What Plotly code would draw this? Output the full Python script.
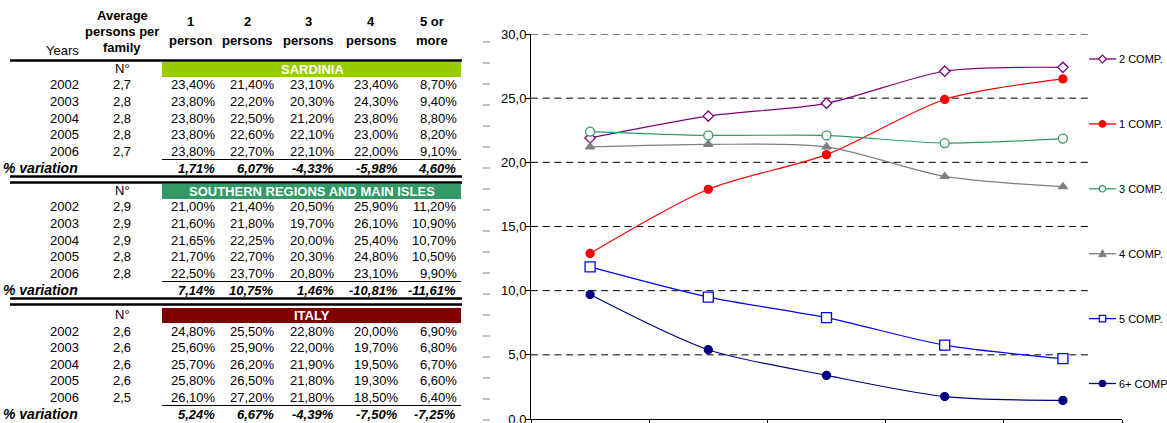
import plotly.graph_objects as go

W, H = 1167, 423

# ---------------- table values ----------------
years = [2002, 2003, 2004, 2005, 2006]
header_top = ["1", "2", "3", "4", "5 or"]
header_bottom = ["person", "persons", "persons", "persons", "more"]

sardinia_avg = [2.7, 2.8, 2.8, 2.8, 2.7]
sardinia_shares = [
    [23.40, 21.40, 23.10, 23.40, 8.70],
    [23.80, 22.20, 20.30, 24.30, 9.40],
    [23.80, 22.50, 21.20, 23.80, 8.80],
    [23.80, 22.60, 22.10, 23.00, 8.20],
    [23.80, 22.70, 22.10, 22.00, 9.10],
]
sardinia_var = [1.71, 6.07, -4.33, -5.98, 4.60]

south_avg = [2.9, 2.9, 2.9, 2.8, 2.8]
south_shares = [
    [21.00, 21.40, 20.50, 25.90, 11.20],
    [21.60, 21.80, 19.70, 26.10, 10.90],
    [21.65, 22.25, 20.00, 25.40, 10.70],
    [21.70, 22.70, 20.30, 24.80, 10.50],
    [22.50, 23.70, 20.80, 23.10, 9.90],
]
south_var = [7.14, 10.75, 1.46, -10.81, -11.61]

italy_avg = [2.6, 2.6, 2.6, 2.6, 2.5]
italy_shares = [
    [24.80, 25.50, 22.80, 20.00, 6.90],
    [25.60, 25.90, 22.00, 19.70, 6.80],
    [25.70, 26.20, 21.90, 19.50, 6.70],
    [25.80, 26.50, 21.80, 19.30, 6.60],
    [26.10, 27.20, 21.80, 18.50, 6.40],
]
italy_var = [5.24, 6.67, -4.39, -7.50, -7.25]

# ---------------- chart values ----------------
periods = ["2002", "2003", "2004", "2005", "2006"]
comp1 = [12.9, 17.9, 20.6, 24.9, 26.5]
comp2 = [21.9, 23.6, 24.6, 27.1, 27.4]
comp3 = [22.4, 22.1, 22.1, 21.5, 21.85]
comp4 = [21.2, 21.4, 21.2, 18.9, 18.1]
comp5 = [11.85, 9.5, 7.9, 5.75, 4.7]
comp6 = [9.7, 5.4, 3.4, 1.75, 1.45]

FONT = "Liberation Sans, Arial, sans-serif"


def px(x):
    return x / W


def py(y):
    return 1 - y / H


def pct(v):
    return f"{v:.2f}".replace(".", ",") + "%"


def dec1(v):
    return f"{v:.1f}".replace(".", ",")


annotations = []
shapes = []


def text(x, y, s, anchor="right", bold=False, italic=False, color="black", size=13):
    if bold and italic:
        s = f"<b><i>{s}</i></b>"
    elif bold:
        s = f"<b>{s}</b>"
    elif italic:
        s = f"<i>{s}</i>"
    annotations.append(dict(
        x=px(x), y=py(y), xref="paper", yref="paper", text=s, showarrow=False,
        xanchor=anchor, yanchor="middle", borderpad=0, borderwidth=0,
        font=dict(family=FONT, size=size, color=color)))


def hline(x0, x1, y, width, color="black"):
    shapes.append(dict(type="line", xref="paper", yref="paper",
                       x0=px(x0), x1=px(x1), y0=py(y), y1=py(y),
                       line=dict(color=color, width=width)))


def band(x0, x1, y0, y1, color):
    shapes.append(dict(type="rect", xref="paper", yref="paper",
                       x0=px(x0), x1=px(x1), y0=py(y1), y1=py(y0),
                       fillcolor=color, line=dict(width=0), layer="below"))


# column geometry of the table
year_right = 79
avg_center = 122
col_centers = [190, 247, 308, 371, 432]
col_rights = [216, 275, 335, 399, 457]
table_left, table_right, band_left = 10, 462, 162

# header block
text(avg_center, 15, "Average", anchor="center", bold=True)
text(avg_center, 31.5, "persons per", anchor="center", bold=True)
text(avg_center, 47, "family", anchor="center", bold=True)
for cx, top, bottom in zip(col_centers, header_top, header_bottom):
    text(cx, 22, top, anchor="center", bold=True)
    text(cx, 40, bottom, anchor="center", bold=True)
text(year_right, 51, "Years")
hline(table_left, table_right, 60.5, 2.7)

sections = [
    ("SARDINIA", "#99CC00", sardinia_avg, sardinia_shares, sardinia_var, 68),
    ("SOUTHERN REGIONS AND MAIN ISLES", "#339966", south_avg, south_shares, south_var, 190),
    ("ITALY", "#800000", italy_avg, italy_shares, italy_var, 314),
]

for k, (name, color, avg, shares, var, base) in enumerate(sections):
    band(band_left, table_right - 1, base - 6, base + 9, color)
    text((band_left + table_right) / 2, base + 1.5, name, anchor="center", bold=True, color="white")
    text(avg_center, base, "N°", anchor="center")
    for i, (yr, a, row) in enumerate(zip(years, avg, shares)):
        yy = base + 17 + i * 16.6
        text(year_right, yy, str(yr))
        text(avg_center, yy, dec1(a), anchor="center")
        for xr, v in zip(col_rights, row):
            text(xr, yy, pct(v))
    hline(band_left, table_right - 1, base + 91.5, 1.2)
    text(78, base + 100, "% variation", bold=True, italic=True, size=14)
    for xr, v in zip(col_rights, var):
        text(xr - 1, base + 100, pct(v), bold=True, italic=True)
    if k < len(sections) - 1:
        hline(table_left, table_right, base + 108.5, 2.5)
        hline(table_left, table_right, base + 114.5, 2.5)

# small grey marks beside the value axis
for i in range(19):
    yy = 42 + 21 * i
    hline(483, 490, yy, 2, color="#C0C0C0")

# dashed value gridlines, stopping short of the legend column
for g in [5, 10, 15, 20, 25, 30]:
    shapes.append(dict(type="line", xref="x domain", yref="y",
                       x0=0, x1=0.9425, y0=g, y1=g, layer="below",
                       line=dict(color="black", width=1, dash="7px,4.7px")))

fig = go.Figure()

# name, values, line colour, marker symbol, marker fill, marker size
series = [
    ("1 COMP.", comp1, "#FF0000", "circle", "#FF0000", 8),
    ("2 COMP.", comp2, "#800080", "diamond", "white", 8),
    ("3 COMP.", comp3, "#339966", "circle", "white", 9),
    ("4 COMP.", comp4, "#808080", "triangle-up", "#808080", 8),
    ("5 COMP.", comp5, "#0000FF", "square", "white", 10),
    ("6+ COMP.", comp6, "#000080", "circle", "#000080", 8),
]
for name, vals, col, sym, fill, size in series:
    fig.add_trace(go.Scatter(
        x=periods, y=vals, name=name, mode="lines+markers", showlegend=False,
        line=dict(color=col, width=1.2, shape="spline", smoothing=0.8),
        marker=dict(symbol=sym, size=size, color=fill, line=dict(color=col, width=1.3)),
    ))

# legend column at the right edge (keys drawn as small shapes)
legend_order = ["2 COMP.", "1 COMP.", "3 COMP.", "4 COMP.", "5 COMP.", "6+ COMP."]
style = {s[0]: s for s in series}
key_x0, key_x1, key_mid, label_x = 1089, 1116, 1102.5, 1119
for i, name in enumerate(legend_order):
    _, _, col, sym, fill, _ = style[name]
    yy = 59 + i * 64.9
    hline(key_x0, key_x1, yy, 1.3, color=col)
    r = 3.2
    if sym == "circle":
        shapes.append(dict(type="circle", xref="paper", yref="paper",
                           x0=px(key_mid - r), x1=px(key_mid + r), y0=py(yy + r), y1=py(yy - r),
                           fillcolor=fill, line=dict(color=col, width=1.2)))
    elif sym == "square":
        shapes.append(dict(type="rect", xref="paper", yref="paper",
                           x0=px(key_mid - r), x1=px(key_mid + r), y0=py(yy + r), y1=py(yy - r),
                           fillcolor=fill, line=dict(color=col, width=1.2)))
    elif sym == "diamond":
        d = 4
        path = (f"M {px(key_mid - d)} {py(yy)} L {px(key_mid)} {py(yy - d)} "
                f"L {px(key_mid + d)} {py(yy)} L {px(key_mid)} {py(yy + d)} Z")
        shapes.append(dict(type="path", xref="paper", yref="paper", path=path,
                           fillcolor=fill, line=dict(color=col, width=1.2)))
    else:
        d = 3.8
        path = (f"M {px(key_mid - d)} {py(yy + 3)} L {px(key_mid)} {py(yy - 4)} "
                f"L {px(key_mid + d)} {py(yy + 3)} Z")
        shapes.append(dict(type="path", xref="paper", yref="paper", path=path,
                           fillcolor=fill, line=dict(color=col, width=1)))
    annotations.append(dict(
        x=px(label_x), y=py(yy), xref="paper", yref="paper", text=name, showarrow=False,
        xanchor="left", yanchor="middle", borderpad=0, borderwidth=0,
        font=dict(family=FONT, size=11, color="black")))

fig.update_layout(
    template="none",
    width=W, height=H,
    margin=dict(l=0, r=0, t=0, b=0, pad=0),
    paper_bgcolor="white", plot_bgcolor="white",
    separators=",.",
    font=dict(family=FONT, size=13, color="black"),
    showlegend=False,
    xaxis=dict(
        domain=[px(531), px(1122)], type="category", range=[-0.5, 4.5],
        showgrid=False, zeroline=False, showline=True, linecolor="black", linewidth=1,
        ticks="outside", ticklen=5, tickcolor="black", tickson="boundaries",
        showticklabels=False, automargin=False,
    ),
    yaxis=dict(
        domain=[4 / H, 1 - 34 / H], range=[0, 30], dtick=5,
        tickformat=".1f", showgrid=False, zeroline=False,
        showline=True, linecolor="black", linewidth=1,
        ticks="outside", ticklen=5, tickcolor="black", ticklabelstandoff=-4,
        ticklabeloverflow="allow",
        tickfont=dict(family=FONT, size=13, color="black"), automargin=False,
    ),
    annotations=annotations,
    shapes=shapes,
)

fig.write_html("out.html")
